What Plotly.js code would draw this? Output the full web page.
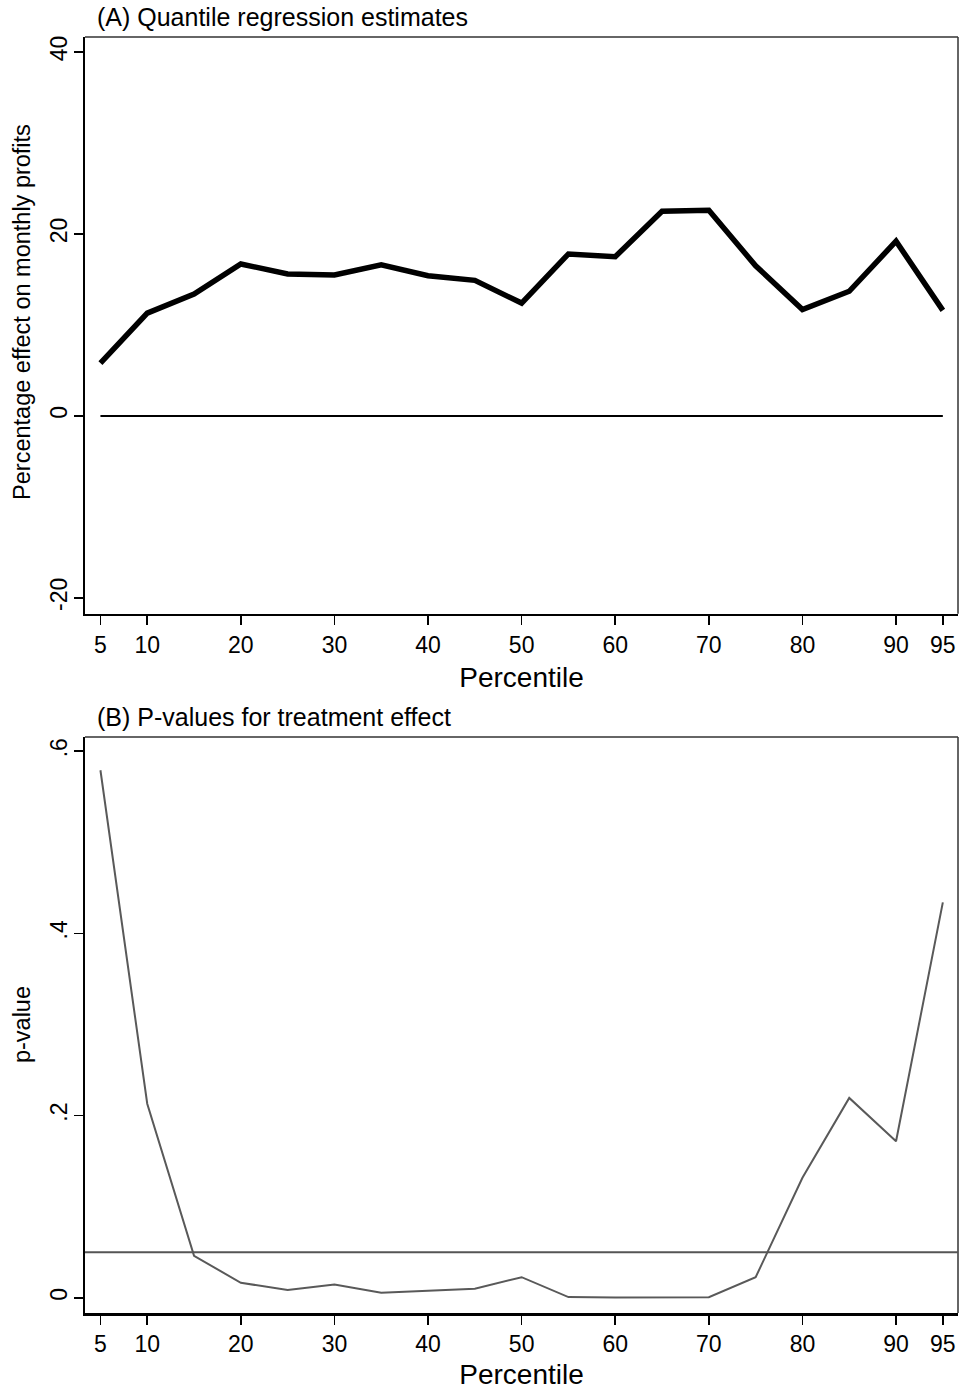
<!DOCTYPE html>
<html>
<head>
<meta charset="utf-8">
<script src="https://cdn.plot.ly/plotly-3.0.1.min.js"></script>
<style>html,body{margin:0;padding:0;background:#fff;}#chart{width:961px;height:1390px;}</style>
</head>
<body>
<div id="chart"></div>
<script>
// Data
const percentiles = [5,10,15,20,25,30,35,40,45,50,55,60,65,70,75,80,85,90,95];
const effectPct = [5.8,11.3,13.4,16.7,15.6,15.5,16.6,15.4,14.9,12.4,17.8,17.5,22.5,22.6,16.5,11.7,13.7,19.2,11.6];
const pValues = [0.579,0.213,0.046,0.0165,0.0085,0.0146,0.0055,0.0073,0.0099,0.0226,0.0008,0.0004,0.0002,0.0006,0.0225,0.1317,0.2194,0.1718,0.434];
const zeroLineX = [5,95];
const zeroLineY = [0,0];
const pThreshold = 0.05;
const xTickVals = [5,10,20,30,40,50,60,70,80,90,95];
const yTickValsA = [-20,0,20,40];
const yTickTextA = ["-20","0","20","40"];
const yTickValsB = [0,0.2,0.4,0.6];
const yTickTextB = ["0",".2",".4",".6"];

const FONT = "Liberation Sans, Arial, Helvetica, sans-serif";

const traces = [
  {x: zeroLineX, y: zeroLineY, xaxis:'x', yaxis:'y', mode:'lines', line:{color:'#000', width:2}, hoverinfo:'skip'},
  {x: percentiles, y: effectPct, xaxis:'x', yaxis:'y', mode:'lines', line:{color:'#000', width:5.5}},
  {x: percentiles, y: pValues, xaxis:'x2', yaxis:'y2', mode:'lines', line:{color:'#595959', width:2}}
];

const xCommon = {
  range:[3.35,96.62], tickvals:xTickVals, ticks:'outside', ticklen:9, tickwidth:1.5, tickcolor:'#000',
  showline:true, linecolor:'#000', linewidth:2.5, showgrid:false, zeroline:false,
  tickfont:{family:FONT, size:23, color:'#000'},
  title:{text:'Percentile', font:{family:FONT, size:28, color:'#000'}, standoff:11}
};
const yCommon = {
  ticks:'outside', ticklen:9, tickwidth:1.5, tickcolor:'#000', tickangle:-90,
  showline:true, linecolor:'#000', linewidth:2.5, showgrid:false, zeroline:false,
  tickfont:{family:FONT, size:23, color:'#000'}, ticklabelstandoff:-3
};

const layout = {
  width:961, height:1390,
  margin:{l:85, r:2.5, t:37, b:76.5},
  paper_bgcolor:'#fff', plot_bgcolor:'#fff',
  showlegend:false,
  xaxis: Object.assign({}, xCommon, {anchor:'y', domain:[0,1]}),
  yaxis: Object.assign({}, yCommon, {anchor:'x', domain:[0.548,1], range:[-21.75,41.65], tickvals:yTickValsA, ticktext:yTickTextA}),
  xaxis2: Object.assign({}, xCommon, {anchor:'y2', domain:[0,1]}),
  yaxis2: Object.assign({}, yCommon, {anchor:'x2', domain:[0,0.4514], range:[-0.0167,0.6155], tickvals:yTickValsB, ticktext:yTickTextB}),
  shapes:[
    {type:'line', xref:'x domain', yref:'y domain', x0:0, x1:1, y0:1, y1:1, line:{color:'#333', width:1.5}},
    {type:'line', xref:'x domain', yref:'y domain', x0:1, x1:1, y0:0, y1:1, line:{color:'#333', width:1.5}},
    {type:'line', xref:'x2 domain', yref:'y2 domain', x0:0, x1:1, y0:1, y1:1, line:{color:'#333', width:1.5}},
    {type:'line', xref:'x2 domain', yref:'y2 domain', x0:1, x1:1, y0:0, y1:1, line:{color:'#333', width:1.5}},
    {type:'line', xref:'x2 domain', yref:'y2', x0:0, x1:1, y0:pThreshold, y1:pThreshold, line:{color:'#555', width:2}}
  ],
  annotations:[
    {text:'(A) Quantile regression estimates', xref:'paper', yref:'paper', x:0.0114, y:1.0157, xanchor:'left', yanchor:'middle', showarrow:false, font:{family:FONT, size:25, color:'#000'}},
    {text:'(B) P-values for treatment effect', xref:'paper', yref:'paper', x:0.0114, y:0.4673, xanchor:'left', yanchor:'middle', showarrow:false, font:{family:FONT, size:25, color:'#000'}},
    {text:'Percentage effect on monthly profits', xref:'paper', yref:'paper', x:-0.0721, y:0.7846, xanchor:'center', yanchor:'middle', textangle:-90, showarrow:false, font:{family:FONT, size:23.5, color:'#000'}},
    {text:'p-value', xref:'paper', yref:'paper', x:-0.0721, y:0.2257, xanchor:'center', yanchor:'middle', textangle:-90, showarrow:false, font:{family:FONT, size:23.5, color:'#000'}}
  ]
};

Plotly.newPlot('chart', traces, layout, {staticPlot:true, displayModeBar:false});
</script>
</body>
</html>
